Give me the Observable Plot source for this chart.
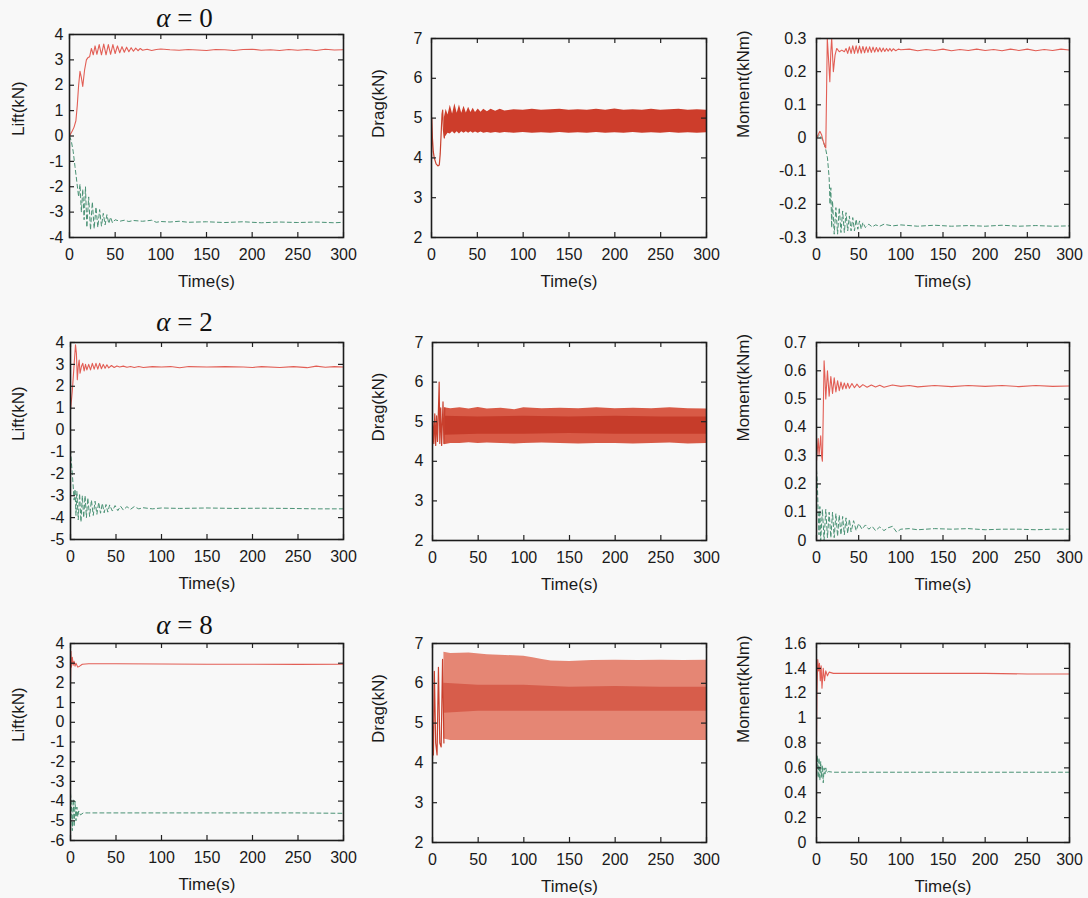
<!DOCTYPE html>
<html><head><meta charset="utf-8">
<script src="https://cdn.jsdelivr.net/npm/d3@7"></script>
<script src="https://cdn.jsdelivr.net/npm/@observablehq/plot@0.6"></script>
<style>
html,body{margin:0;padding:0;background:#f8f8f8;}
#root{position:relative;width:1088px;height:898px;overflow:hidden;}
#root svg{position:absolute;overflow:visible;font-family:"Liberation Sans",Arial,Helvetica,sans-serif !important;}
#root svg text{font-family:"Liberation Sans",Arial,Helvetica,sans-serif !important;}
.title{position:absolute;width:200px;text-align:center;font-family:"Liberation Serif","DejaVu Serif",serif;font-size:27px;line-height:30px;color:#111;white-space:nowrap;}
.title i{font-style:italic;}
</style></head><body><div id="root"></div><script>
// ---------- tick values ----------
const timeTicks = [0, 50, 100, 150, 200, 250, 300];
const liftTicks0 = [-4, -3, -2, -1, 0, 1, 2, 3, 4];
const liftTicks2 = [-5, -4, -3, -2, -1, 0, 1, 2, 3, 4];
const liftTicks8 = [-6, -5, -4, -3, -2, -1, 0, 1, 2, 3, 4];
const dragTicks = [2, 3, 4, 5, 6, 7];
const momentTicks0 = [-0.3, -0.2, -0.1, 0, 0.1, 0.2, 0.3];
const momentTicks2 = [0, 0.1, 0.2, 0.3, 0.4, 0.5, 0.6, 0.7];
const momentTicks8 = [0, 0.2, 0.4, 0.6, 0.8, 1, 1.2, 1.4, 1.6];
const titles = ["0", "2", "8"];

// ---------- alpha = 0 ----------
const lift0Red = [[0,0],[3,0.2],[5,0.35],[7,0.6],[8.5,1.2],[10,2.0],[11.5,2.55],[13,2.3],[14.5,1.95],[16.5,2.6],[18.5,3.0],[20,3.08],[22,3.12],[24,3.45],[26,3.2],[28,3.55],[30,3.22],[32.5,3.6],[35,3.2],[37.5,3.62],[40,3.2],[42.5,3.6],[45,3.22],[47.5,3.6],[50,3.25],[52.5,3.55],[55,3.28],[57.5,3.52],[60,3.3],[62.5,3.5],[65,3.32],[67.5,3.48],[70,3.34],[72.5,3.46],[75,3.36],[77.5,3.45],[80,3.38],[85,3.42],[90,3.37],[95,3.41],[100,3.43],[110,3.4],[120,3.38],[130,3.41],[140,3.39],[150,3.37],[160,3.41],[170,3.4],[180,3.37],[190,3.41],[200,3.42],[210,3.38],[220,3.4],[230,3.37],[240,3.41],[250,3.38],[260,3.41],[270,3.37],[280,3.42],[290,3.39],[300,3.4]];
const lift0Green = [[0,0],[2,-0.2],[4,-0.6],[6,-1.2],[8,-1.8],[10,-2.4],[11.5,-1.9],[13,-3.0],[14.5,-2.1],[16,-3.3],[17.5,-2.0],[19,-3.6],[21,-2.4],[23,-3.7],[25,-2.6],[27,-3.65],[29,-2.8],[31,-3.6],[33,-2.9],[35,-3.55],[37,-3.05],[39,-3.5],[41,-3.1],[43,-3.45],[45,-3.2],[47,-3.42],[50,-3.3],[55,-3.36],[60,-3.32],[65,-3.37],[70,-3.33],[80,-3.36],[90,-3.32],[95,-3.4],[100,-3.37],[110,-3.39],[120,-3.36],[130,-3.4],[150,-3.38],[170,-3.41],[190,-3.38],[210,-3.42],[230,-3.39],[250,-3.41],[270,-3.39],[290,-3.42],[300,-3.4]];
const drag0Trans = [[0,4.0],[0.3,5.0],[1,4.5],[2,4.15],[3,4.0],[5,3.85],[7,3.8],[8.5,3.82],[9.5,4.1],[10.5,4.6],[11.5,5.1],[12.2,5.2],[13,4.7],[14,4.5],[15,4.95]];
const drag0Band = [[14,4.5,5.0],[16,4.55,5.22],[18,4.62,5.08],[20.5,4.6,5.32],[23,4.66,5.1],[25.5,4.6,5.36],[28,4.66,5.12],[30.5,4.6,5.33],[33,4.66,5.12],[35.5,4.62,5.3],[38,4.66,5.13],[40.5,4.62,5.27],[43,4.66,5.14],[45.5,4.62,5.25],[48,4.65,5.14],[51,4.62,5.23],[54,4.65,5.15],[57,4.62,5.22],[61,4.64,5.16],[65,4.62,5.22],[70,4.64,5.17],[75,4.62,5.22],[80,4.64,5.18],[90,4.62,5.21],[100,4.64,5.2],[110,4.62,5.22],[120,4.63,5.2],[130,4.62,5.21],[140,4.64,5.22],[150,4.62,5.2],[160,4.63,5.21],[170,4.62,5.2],[180,4.64,5.22],[190,4.62,5.2],[200,4.63,5.23],[210,4.62,5.2],[220,4.64,5.21],[230,4.62,5.2],[240,4.63,5.22],[250,4.62,5.2],[260,4.64,5.21],[270,4.62,5.22],[280,4.63,5.2],[290,4.62,5.21],[300,4.63,5.2]];
const moment0Red = [[0,0.0],[2,0.01],[4,0.02],[6,0.01],[8,-0.01],[10,-0.025],[11,-0.03],[12,0.15],[12.8,0.3],[14,0.25],[15.8,0.17],[17,0.26],[18,0.3],[19,0.25],[20,0.2],[22,0.25],[24,0.27],[27,0.26],[30,0.265],[33,0.26],[35,0.27],[37,0.255],[39,0.275],[41,0.255],[43,0.278],[45,0.255],[47,0.278],[49,0.256],[51,0.277],[53,0.256],[55,0.276],[57,0.257],[59,0.275],[61,0.258],[63,0.275],[65,0.258],[67,0.274],[69,0.259],[71,0.273],[73,0.26],[75,0.272],[77,0.26],[79,0.271],[81,0.261],[83,0.27],[85,0.262],[87,0.27],[89,0.262],[91,0.269],[94,0.263],[97,0.268],[100,0.266],[110,0.268],[120,0.263],[130,0.267],[140,0.264],[150,0.268],[160,0.263],[170,0.267],[180,0.264],[190,0.268],[200,0.264],[210,0.267],[220,0.263],[230,0.268],[240,0.264],[250,0.268],[260,0.263],[270,0.267],[280,0.264],[290,0.268],[300,0.265]];
const moment0Green = [[0,0],[4,0.01],[8,-0.01],[11,-0.035],[13,-0.06],[15,-0.12],[16,-0.2],[17,-0.15],[18,-0.27],[19,-0.19],[21,-0.29],[23,-0.21],[25,-0.29],[27,-0.21],[29,-0.285],[31,-0.22],[33,-0.285],[35,-0.225],[37,-0.28],[39,-0.235],[41,-0.28],[43,-0.24],[45,-0.28],[47,-0.245],[49,-0.275],[51,-0.25],[53,-0.275],[55,-0.255],[58,-0.27],[62,-0.26],[66,-0.268],[70,-0.262],[75,-0.266],[80,-0.26],[90,-0.265],[100,-0.262],[120,-0.266],[140,-0.263],[160,-0.266],[180,-0.264],[200,-0.266],[220,-0.263],[240,-0.266],[260,-0.264],[280,-0.266],[300,-0.265]];

// ---------- alpha = 2 ----------
const lift2Red = [[0,0.9],[2,1.8],[4,3.0],[5.5,3.9],[6.5,3.5],[7.5,2.3],[8.5,2.9],[9.5,3.2],[10.5,2.6],[12,2.9],[13.5,3.05],[15,2.7],[16.5,3.0],[18,2.75],[20,3.0],[22,2.75],[24,3.05],[26,2.78],[28,3.05],[30,2.78],[32,3.05],[34,2.8],[36,3.0],[38,2.82],[40,2.98],[42,2.84],[45,2.95],[48,2.86],[51,2.93],[54,2.88],[58,2.92],[62,2.87],[66,2.9],[70,2.86],[75,2.9],[80,2.86],[90,2.9],[100,2.88],[110,2.9],[120,2.85],[130,2.9],[150,2.88],[170,2.9],[190,2.88],[200,2.86],[210,2.9],[230,2.86],[245,2.9],[260,2.85],[270,2.92],[280,2.87],[290,2.9],[300,2.88]];
const lift2Green = [[0,-0.9],[1,-1.5],[2,-2.0],[3,-2.6],[4,-3.2],[5,-2.7],[6,-3.9],[7,-2.8],[8.5,-4.1],[10,-2.9],[11.5,-4.2],[13,-3.0],[14.5,-4.0],[16,-3.0],[17.5,-4.0],[19,-3.1],[21,-3.95],[23,-3.2],[25,-3.9],[27,-3.25],[29,-3.85],[31,-3.3],[33,-3.8],[35,-3.35],[37,-3.78],[39,-3.4],[41,-3.75],[43,-3.42],[46,-3.7],[49,-3.45],[52,-3.68],[55,-3.48],[58,-3.65],[62,-3.5],[66,-3.62],[70,-3.5],[75,-3.6],[80,-3.55],[90,-3.6],[100,-3.56],[120,-3.58],[150,-3.56],[180,-3.58],[210,-3.57],[240,-3.58],[270,-3.6],[300,-3.6]];
const drag2Trans = [[0,4.4],[0.5,5.0],[1.5,4.45],[2.5,5.2],[3.5,4.4],[4.5,5.15],[5.5,4.5],[6.5,5.3],[7.3,6.0],[8,4.45],[9,5.35],[10,4.4],[11.5,5.5],[12.5,4.45],[13.5,5.35]];
const drag2Outer = [[13,4.42,5.35],[20,4.45,5.33],[30,4.45,5.35],[40,4.47,5.32],[50,4.45,5.36],[60,4.46,5.32],[75,4.45,5.34],[90,4.44,5.3],[100,4.45,5.35],[120,4.46,5.33],[140,4.45,5.34],[160,4.44,5.33],[180,4.45,5.35],[200,4.45,5.33],[220,4.44,5.34],[240,4.45,5.33],[260,4.46,5.35],[280,4.44,5.33],[300,4.45,5.32]];
const drag2Inner = [[13,4.66,5.14],[50,4.68,5.12],[100,4.68,5.14],[150,4.7,5.12],[200,4.68,5.14],[250,4.68,5.12],[300,4.68,5.12]];
const moment2Red = [[0,0.28],[2,0.36],[3,0.3],[5,0.37],[6,0.3],[7,0.28],[8,0.45],[9,0.635],[10,0.58],[11,0.5],[13,0.6],[15,0.51],[17,0.58],[19,0.52],[21,0.575],[23,0.525],[25,0.565],[27,0.53],[29,0.56],[31,0.535],[33,0.557],[35,0.537],[37,0.556],[39,0.538],[42,0.555],[45,0.54],[48,0.553],[51,0.541],[55,0.551],[60,0.542],[65,0.55],[70,0.543],[75,0.549],[80,0.542],[90,0.55],[100,0.545],[110,0.548],[120,0.543],[140,0.548],[160,0.544],[180,0.548],[200,0.545],[220,0.548],[240,0.544],[260,0.548],[280,0.545],[300,0.546]];
const moment2Green = [[0,0.25],[1,0.2],[2,0.1],[3,0.02],[4,0.12],[5,0.0],[7,0.11],[9,0.0],[11,0.11],[13,0.01],[15,0.1],[17,0.01],[19,0.1],[21,0.01],[23,0.095],[25,0.015],[27,0.09],[29,0.02],[31,0.085],[33,0.02],[35,0.08],[37,0.025],[39,0.075],[41,0.03],[44,0.07],[47,0.035],[50,0.06],[54,0.04],[58,0.055],[62,0.04],[66,0.05],[70,0.035],[75,0.048],[80,0.035],[85,0.045],[90,0.05],[95,0.03],[100,0.04],[110,0.042],[120,0.038],[140,0.042],[160,0.04],[180,0.042],[200,0.038],[220,0.04],[240,0.04],[260,0.038],[280,0.04],[300,0.04]];

// ---------- alpha = 8 ----------
const lift8Red = [[0,1.8],[0.5,3.6],[1,2.8],[2,3.3],[3,2.9],[4,3.1],[5,2.85],[6,3.0],[8,2.8],[10,2.85],[13,2.95],[20,2.97],[50,2.97],[100,2.96],[150,2.95],[200,2.95],[250,2.94],[300,2.95]];
const lift8Green = [[0,-3.6],[1,-4.2],[2,-5.5],[3,-3.9],[4,-5.3],[5,-4.0],[6,-5.0],[7,-4.3],[8,-4.8],[9,-4.5],[11,-4.7],[14,-4.6],[20,-4.6],[50,-4.6],[100,-4.6],[150,-4.6],[200,-4.6],[250,-4.6],[300,-4.62]];
const drag8Trans = [[0,4.1],[0.5,4.9],[1,4.2],[2,6.3],[3.5,4.5],[5,4.2],[6.5,6.4],[8,4.5],[9.5,4.4],[11,6.6],[12.5,4.5]];
const drag8Outer = [[12.5,4.6,6.78],[20,4.56,6.75],[40,4.56,6.76],[60,4.56,6.72],[80,4.56,6.7],[100,4.56,6.68],[110,4.56,6.64],[120,4.56,6.6],[130,4.56,6.56],[150,4.56,6.55],[175,4.56,6.57],[200,4.56,6.58],[225,4.56,6.57],[250,4.56,6.58],[275,4.56,6.57],[300,4.56,6.58]];
const drag8Inner = [[12.5,5.25,6.0],[50,5.3,5.95],[100,5.3,5.95],[150,5.3,5.9],[200,5.3,5.92],[250,5.3,5.9],[300,5.3,5.9]];
const moment8Red = [[0,0.85],[0.5,1.2],[1.5,1.47],[2.5,1.38],[3.5,1.44],[4.5,1.3],[5.5,1.42],[6.5,1.24],[8,1.4],[9.5,1.3],[11,1.38],[13,1.34],[15,1.37],[20,1.36],[50,1.36],[100,1.36],[150,1.36],[200,1.36],[250,1.355],[300,1.355]];
const moment8Green = [[0,0.55],[1,0.7],[2,0.52],[3,0.68],[4,0.5],[5,0.65],[6,0.52],[7,0.62],[8,0.48],[9,0.6],[10,0.55],[11,0.6],[12,0.56],[14,0.57],[20,0.565],[50,0.565],[100,0.565],[200,0.565],[300,0.565]];

// ---------- styling ----------
const RED = "#e25e55";
const DRAGRED = "#c9402d";
const GREEN = "#4a9275";
const root = document.getElementById("root");
const tx = d => d[0], ty = d => d[1];

function redLine(data) { return Plot.line(data, {x: tx, y: ty, stroke: RED, strokeWidth: 1.1, clip: true}); }
function greenLine(data) { return Plot.line(data, {x: tx, y: ty, stroke: GREEN, strokeWidth: 1, strokeDasharray: "4 3", clip: true}); }
function band(data, fill, opacity) { return Plot.areaY(data, {x: tx, y1: d => d[1], y2: d => d[2], fill, fillOpacity: opacity, clip: true}); }
function dragLine(data) { return Plot.line(data, {x: tx, y: ty, stroke: DRAGRED, strokeWidth: 1.2, clip: true}); }

function panel(cfg) {
  const {svgLeft, svgTop, svgW, svgH, frame, yDomain, yTicks, yLabel, yLabelDx, tickPad, marks} = cfg;
  const [fl, fr, ft, fb] = frame;
  const W = fr - fl, H = fb - ft;
  const chart = Plot.plot({
    width: svgW, height: svgH,
    marginLeft: fl - svgLeft, marginRight: svgLeft + svgW - fr,
    marginTop: ft - svgTop, marginBottom: svgTop + svgH - fb,
    x: {domain: [0, 300]},
    y: {domain: yDomain},
    style: {background: "transparent", fontFamily: "Liberation Sans, Arial, sans-serif", fontSize: "16px", color: "#1a1a1a", overflow: "visible"},
    marks: [
      ...marks,
      Plot.ruleX(timeTicks, {x: d => d, insetTop: H - 5, stroke: "#222", strokeWidth: 1.2}),
      Plot.ruleX(timeTicks, {x: d => d, insetBottom: H - 5, stroke: "#222", strokeWidth: 1.2}),
      Plot.ruleY(yTicks, {y: d => d, insetRight: W - 5, stroke: "#222", strokeWidth: 1.2}),
      Plot.ruleY(yTicks, {y: d => d, insetLeft: W - 5, stroke: "#222", strokeWidth: 1.2}),
      Plot.frame({stroke: "#1c1c1c", strokeWidth: 1.6}),
      Plot.axisX({ticks: timeTicks, tickSize: 0, tickPadding: 11, tickFormat: d => String(d), label: null, fontSize: 16}),
      Plot.axisY({ticks: yTicks, tickSize: 0, tickPadding: tickPad, tickFormat: d => String(d), label: null, fontSize: 16}),
      Plot.text(["Time(s)"], {frameAnchor: "bottom", dy: 44, text: d => d, fontSize: 17, lineAnchor: "middle"}),
      Plot.text([yLabel], {frameAnchor: "left", dx: yLabelDx, rotate: -90, text: d => d, fontSize: 17, lineAnchor: "middle"})
    ]
  });
  chart.style.left = svgLeft + "px";
  chart.style.top = svgTop + "px";
  root.appendChild(chart);
}

const rowTop = [0, 300, 600], rowH = [300, 300, 298];
const liftFrames = [[69, 343, 34, 237], [70, 343, 342, 539], [70, 343, 643, 840]];
const dragFrames = [[431, 706, 38, 237], [432, 706, 342, 540], [432, 706, 643, 842]];
const momentFrames = [[816, 1069, 38, 237], [816, 1069, 342, 540], [816, 1069, 643, 842]];
const liftDomains = [[-4, 4], [-5, 4], [-6, 4]];
const liftTickSets = [liftTicks0, liftTicks2, liftTicks8];
const momentDomains = [[-0.3, 0.3], [0, 0.7], [0, 1.6]];
const momentTickSets = [momentTicks0, momentTicks2, momentTicks8];
const liftMarks = [
  [redLine(lift0Red), greenLine(lift0Green)],
  [redLine(lift2Red), greenLine(lift2Green)],
  [redLine(lift8Red), greenLine(lift8Green)]
];
const dragMarks = [
  [band(drag0Band, "#cd3d2b", 1), dragLine(drag0Trans)],
  [band(drag2Outer, "#d85a46", 1), band(drag2Inner, "#c63c2a", 1), dragLine(drag2Trans)],
  [band(drag8Outer, "#e58674", 1), band(drag8Inner, "#d75d4b", 1), dragLine(drag8Trans)]
];
const momentMarks = [
  [greenLine(moment0Green), redLine(moment0Red)],
  [redLine(moment2Red), greenLine(moment2Green)],
  [redLine(moment8Red), greenLine(moment8Green)]
];

for (let r = 0; r < 3; r++) {
  panel({svgLeft: 0, svgTop: rowTop[r], svgW: 362, svgH: rowH[r], frame: liftFrames[r],
    yDomain: liftDomains[r], yTicks: liftTickSets[r], yLabel: "Lift(kN)", yLabelDx: 18 - liftFrames[r][0], tickPad: 6, marks: liftMarks[r]});
  panel({svgLeft: 362, svgTop: rowTop[r], svgW: 363, svgH: rowH[r], frame: dragFrames[r],
    yDomain: [2, 7], yTicks: dragTicks, yLabel: "Drag(kN)", yLabelDx: 378.5 - dragFrames[r][0], tickPad: 9, marks: dragMarks[r]});
  panel({svgLeft: 725, svgTop: rowTop[r], svgW: 363, svgH: rowH[r], frame: momentFrames[r],
    yDomain: momentDomains[r], yTicks: momentTickSets[r], yLabel: "Moment(kNm)", yLabelDx: 743.5 - momentFrames[r][0], tickPad: 10, marks: momentMarks[r]});
}

// titles (alpha = ...)
const titleTops = [3, 307, 610];
titles.forEach((v, i) => {
  const div = document.createElement("div");
  div.className = "title";
  div.style.left = (184.5 - 100) + "px";
  div.style.top = titleTops[i] + "px";
  div.innerHTML = "<i>α</i> = " + v;
  root.appendChild(div);
});
</script></body></html>
